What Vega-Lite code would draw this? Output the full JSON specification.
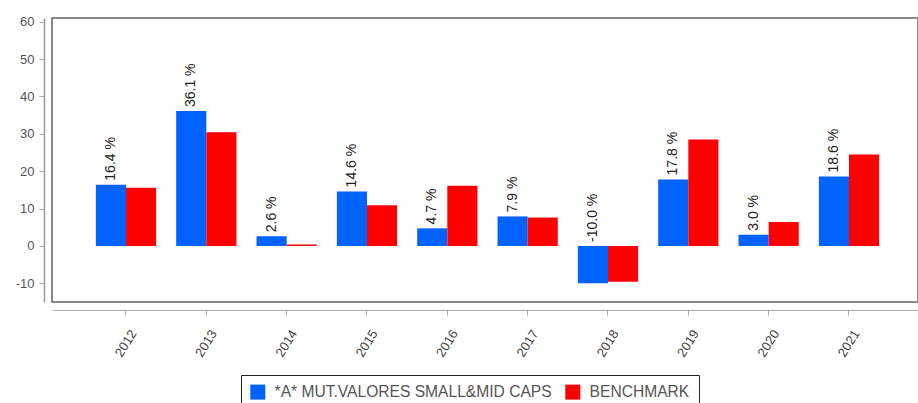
{
  "$schema": "https://vega.github.io/schema/vega-lite/v6.json",
  "autosize": {"type": "none"},
  "width": 866,
  "height": 284,
  "padding": {"left": 52, "top": 18, "right": 0, "bottom": 101},
  "background": "white",
  "config": {
    "font": "Liberation Sans",
    "view": {"stroke": "#8a8a8a", "strokeWidth": 2},
    "axis": {"domainColor": "#aaaaaa", "tickColor": "#aaaaaa", "labelColor": "#555555", "labelFontSize": 13, "labelFont": "Liberation Sans"}
  },
  "data": {
    "values": [
      {"year": "2012", "series": "*A* MUT.VALORES SMALL&MID CAPS", "value": 16.4},
      {"year": "2012", "series": "BENCHMARK", "value": 15.6},
      {"year": "2013", "series": "*A* MUT.VALORES SMALL&MID CAPS", "value": 36.1},
      {"year": "2013", "series": "BENCHMARK", "value": 30.4},
      {"year": "2014", "series": "*A* MUT.VALORES SMALL&MID CAPS", "value": 2.6},
      {"year": "2014", "series": "BENCHMARK", "value": 0.4},
      {"year": "2015", "series": "*A* MUT.VALORES SMALL&MID CAPS", "value": 14.6},
      {"year": "2015", "series": "BENCHMARK", "value": 10.9},
      {"year": "2016", "series": "*A* MUT.VALORES SMALL&MID CAPS", "value": 4.7},
      {"year": "2016", "series": "BENCHMARK", "value": 16.1},
      {"year": "2017", "series": "*A* MUT.VALORES SMALL&MID CAPS", "value": 7.9},
      {"year": "2017", "series": "BENCHMARK", "value": 7.6},
      {"year": "2018", "series": "*A* MUT.VALORES SMALL&MID CAPS", "value": -10.0},
      {"year": "2018", "series": "BENCHMARK", "value": -9.6},
      {"year": "2019", "series": "*A* MUT.VALORES SMALL&MID CAPS", "value": 17.8},
      {"year": "2019", "series": "BENCHMARK", "value": 28.5},
      {"year": "2020", "series": "*A* MUT.VALORES SMALL&MID CAPS", "value": 3.0},
      {"year": "2020", "series": "BENCHMARK", "value": 6.4},
      {"year": "2021", "series": "*A* MUT.VALORES SMALL&MID CAPS", "value": 18.6},
      {"year": "2021", "series": "BENCHMARK", "value": 24.5}
    ]
  },
  "encoding": {
    "x": {
      "field": "year", "type": "nominal", "title": null,
      "scale": {"paddingInner": 0.25, "paddingOuter": 0.515, "align": 0.53},
      "axis": {"offset": 8, "labelAngle": -58, "labelAlign": "center", "labelBaseline": "middle", "labelPadding": 28, "tickSize": 5, "labelColor": "#444444"}
    },
    "xOffset": {"field": "series", "type": "nominal", "sort": ["*A* MUT.VALORES SMALL&MID CAPS", "BENCHMARK"]}
  },
  "layer": [
    {
      "mark": {"type": "bar"},
      "encoding": {
        "y": {
          "field": "value", "type": "quantitative", "title": null,
          "scale": {"domain": [-15, 61], "nice": false, "zero": false},
          "axis": {"offset": 8, "values": [-10, 0, 10, 20, 30, 40, 50, 60], "labelExpr": "replace(datum.label, '−', '-')", "grid": false, "tickSize": 5, "labelPadding": 5, "domainColor": "#999999", "domainWidth": 1.5}
        },
        "color": {
          "field": "series", "type": "nominal",
          "scale": {"domain": ["*A* MUT.VALORES SMALL&MID CAPS", "BENCHMARK"], "range": ["#0062ff", "#ff0000"]},
          "legend": {
            "title": null, "orient": "none", "direction": "horizontal",
            "legendX": 189, "legendY": 357,
            "strokeColor": "#222222", "padding": 9,
            "symbolType": "square", "symbolSize": 225, "symbolStrokeWidth": 0,
            "labelFontSize": 15.6, "labelColor": "#555555", "labelLimit": 400,
            "labelOffset": 9, "columnPadding": 13
          }
        }
      }
    },
    {
      "transform": [
        {"filter": "datum.series === '*A* MUT.VALORES SMALL&MID CAPS'"},
        {"calculate": "max(datum.value, 0)", "as": "anchor"},
        {"calculate": "replace(format(datum.value, '.1f'), '−', '-') + ' %'", "as": "label"}
      ],
      "mark": {"type": "text", "angle": 270, "align": "left", "baseline": "middle", "dx": 4, "fontSize": 14, "color": "#222222"},
      "encoding": {
        "y": {"field": "anchor", "type": "quantitative"},
        "text": {"field": "label"}
      }
    }
  ]
}
